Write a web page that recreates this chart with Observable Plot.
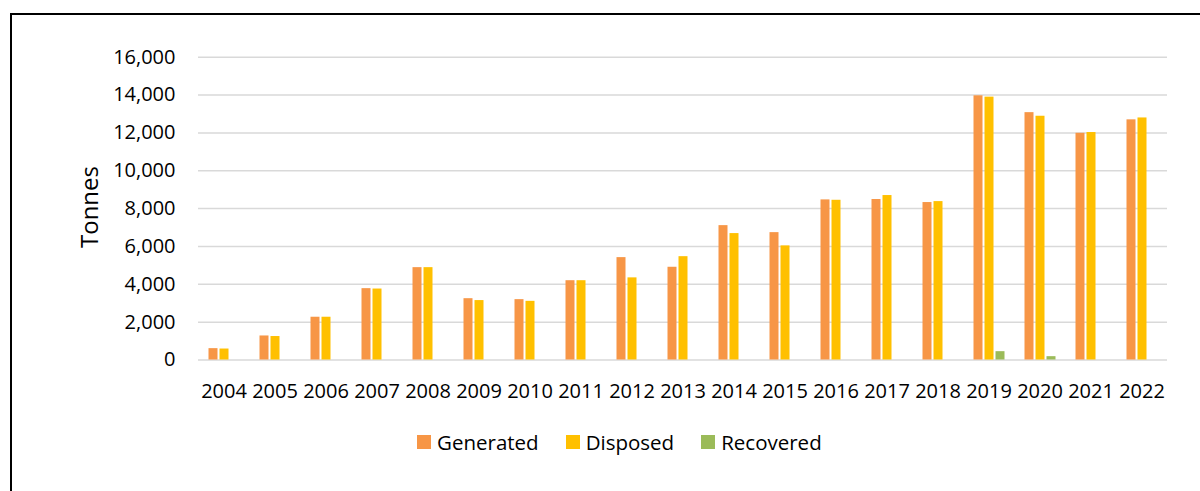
<!DOCTYPE html>
<html>
<head>
<meta charset="utf-8">
<script src="https://cdn.jsdelivr.net/npm/d3@7"></script>
<script src="https://cdn.jsdelivr.net/npm/@observablehq/plot@0.6"></script>
<style>
  html, body { margin: 0; padding: 0; background: #fff; }
  #chart { position: relative; width: 1200px; height: 491px; overflow: hidden; font-family: "Open Sans", sans-serif; }
  #box { position: absolute; left: 10px; top: 13px; width: 1300px; height: 600px; border-left: 2.5px solid #000; border-top: 2.5px solid #000; box-sizing: border-box; }
  #plot { position: absolute; left: 0; top: 0; }
  #ylabel { position: absolute; left: 88px; top: 207px; transform: translate(-50%, -50%) rotate(-90deg); font-size: 24px; color: #000; white-space: nowrap; }
  #legend { position: absolute; left: 417px; top: 428px; display: flex; align-items: center; font-size: 20.5px; color: #000; }
  #legend .item { display: flex; align-items: center; margin-right: 27px; }
  #legend .sw { width: 14px; height: 14px; margin-right: 6px; }
</style>
</head>
<body>
<div id="chart">
  <div id="box"></div>
  <div id="plot"></div>
  <div id="ylabel">Tonnes</div>
  <div id="legend"></div>
</div>
<script>
// Annual tonnages by year
const years = ["2004","2005","2006","2007","2008","2009","2010","2011","2012","2013",
               "2014","2015","2016","2017","2018","2019","2020","2021","2022"];
const generated = [600, 1270, 2260, 3770, 4880, 3240, 3190, 4190, 5410, 4900,
                   7100, 6730, 8460, 8480, 8320, 13960, 13070, 11980, 12690];
const disposed  = [580, 1240, 2260, 3750, 4880, 3140, 3100, 4190, 4340, 5460,
                   6680, 6030, 8440, 8690, 8370, 13890, 12880, 12020, 12790];
const recovered = [0, 0, 0, 0, 0, 0, 0, 0, 0, 0,
                   0, 0, 0, 0, 0, 440, 176, 0, 0];

const seriesNames = ["Generated", "Disposed", "Recovered"];
const seriesColors = ["#F79646", "#FFC000", "#9BBB59"];
const yTicks = [0, 2000, 4000, 6000, 8000, 10000, 12000, 14000, 16000];

// Long-form table: one row per year and series
const seriesValues = [generated, disposed, recovered];
const rows = [];
years.forEach((year, i) => {
  seriesNames.forEach((name, s) => {
    const value = seriesValues[s][i];
    if (value > 0) rows.push({year, series: name, value});
  });
});

const chart = Plot.plot({
  width: 1200,
  height: 420,
  marginTop: 56.7,
  marginBottom: 60.5,
  marginLeft: 191.5,
  marginRight: 26.5,
  style: {fontFamily: "Open Sans", fontSize: "20px", color: "#000", background: "transparent", overflow: "visible"},
  fx: {domain: years, padding: 0, axis: "bottom", tickSize: 0, tickPadding: 23.5, label: null},
  x: {domain: seriesNames, paddingInner: 0.2, paddingOuter: 0.84, axis: null},
  y: {domain: [0, 16000], ticks: yTicks, tickSize: 0, tickPadding: 23, tickFormat: d3.format(","), label: null},
  color: {domain: seriesNames, range: seriesColors},
  marks: [
    Plot.ruleY(yTicks, {stroke: "#d9d9d9", strokeWidth: 1.5}),
    Plot.barY(rows, {fx: "year", x: "series", y: "value", fill: "series"})
  ]
});
document.getElementById("plot").appendChild(chart);

// Legend below the plot
const legend = document.getElementById("legend");
seriesNames.forEach((name, i) => {
  const item = document.createElement("div");
  item.className = "item";
  const sw = document.createElement("div");
  sw.className = "sw";
  sw.style.background = seriesColors[i];
  const label = document.createElement("span");
  label.textContent = name;
  item.appendChild(sw);
  item.appendChild(label);
  legend.appendChild(item);
});
</script>
</body>
</html>
